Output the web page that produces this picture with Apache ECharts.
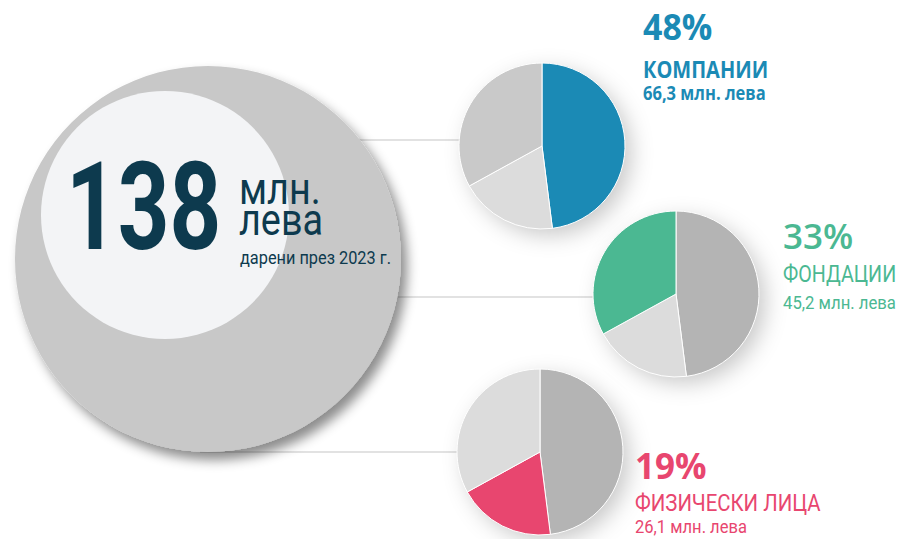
<!DOCTYPE html>
<html>
<head>
<meta charset="utf-8">
<script src="https://cdn.jsdelivr.net/npm/echarts@6/dist/echarts.min.js"></script>
<style>
html,body{margin:0;padding:0;background:#fff;}
#chart{width:900px;height:539px;}
</style>
</head>
<body>
<div id="chart"></div>
<script>
// ---- data ----
const categories = ['КОМПАНИИ', 'ФОНДАЦИИ', 'ФИЗИЧЕСКИ ЛИЦА'];
const shares = [48, 33, 19];
const amounts = [66.3, 45.2, 26.1];
const total = 138;
const totalUnit = ['млн.', 'лева'];
const totalNote = 'дарени през 2023 г.';
const amountUnit = 'млн. лева';
// clockwise slice order in each small pie (from 12 o'clock)
const sliceOrder = [0, 2, 1];

// ---- styles ----
const accent = ['#1b8ab5', '#4bb892', '#e8466f'];
const pieColors = [
  ['#1b8ab5', '#c9c9c9', '#dcdcdc'], // by category index: comp, fond, fiz
  ['#b4b4b4', '#4bb892', '#dcdcdc'],
  ['#b4b4b4', '#dcdcdc', '#e8466f']
];
const pieCenters = [[542, 146], [676, 294], [540, 452]];
const pieR = 83;
const textPos = [
  {x: 643, y: [26, 69, 93], w: [700, 700, 700], f: ['Open Sans', 'Open Sans', 'Open Sans'], s: [35, 23, 19], sx: [0.97, 0.87, 0.87]},
  {x: 783, y: [235, 274, 302], w: [600, 400, 400], f: ['Open Sans', 'Roboto', 'Roboto'], s: [35, 24, 19], sx: [1, 0.82, 0.88]},
  {x: 635, y: [465, 502, 527], w: [700, 400, 400], f: ['Open Sans', 'Roboto', 'Roboto'], s: [35, 24, 18], sx: [1, 0.85, 0.92]}
];

function fmt(v){ return v.toFixed(1).replace('.', ','); }

const series = [];
// big total circle
series.push({
  type: 'pie', silent: true, z: 2,
  center: [208, 259], radius: 193,
  label: {show: false}, labelLine: {show: false},
  itemStyle: {color: '#c8c8c8', shadowColor: 'rgba(0,0,0,0.45)', shadowBlur: 12, shadowOffsetX: 6, shadowOffsetY: 8},
  data: [{name: 'Общо', value: total}]
});
categories.forEach((c, i) => {
  series.push({
    type: 'pie', silent: true, z: 3,
    center: pieCenters[i], radius: pieR,
    startAngle: 90, clockwise: true,
    label: {show: false}, labelLine: {show: false},
    itemStyle: {borderColor: '#fff', borderWidth: 1},
    data: sliceOrder.map(k => ({name: categories[k], value: shares[k], itemStyle: {color: pieColors[i][k]}}))
  });
});

const graphic = [];
// connector lines (behind circles)
const lineY = [140, 297, 452];
lineY.forEach((y, i) => {
  graphic.push({type: 'line', z: 1, shape: {x1: 200, y1: y, x2: pieCenters[i][0], y2: y}, style: {stroke: '#d9d9d9', lineWidth: 1.5}});
});
// pie shadows
pieCenters.forEach(c => {
  graphic.push({type: 'circle', z: 1, shape: {cx: c[0], cy: c[1], r: pieR - 1}, style: {fill: '#fff', shadowColor: 'rgba(0,0,0,0.22)', shadowBlur: 22, shadowOffsetX: 7, shadowOffsetY: 7}});
});
// inner circle
graphic.push({type: 'circle', z: 10, shape: {cx: 165, cy: 215, r: 124}, style: {fill: '#f3f4f6'}});
// total text
graphic.push({type: 'text', z: 20, x: 66, y: 207, scaleX: 0.74, style: {text: String(total), fill: '#0d3a4e', font: '700 122px Roboto', verticalAlign: 'middle', align: 'left'}});
graphic.push({type: 'text', z: 20, x: 239, y: 189, scaleX: 0.86, style: {text: totalUnit[0], fill: '#0d3a4e', font: '400 44px Roboto', verticalAlign: 'middle'}});
graphic.push({type: 'text', z: 20, x: 239, y: 220, scaleX: 0.86, style: {text: totalUnit[1], fill: '#0d3a4e', font: '400 44px Roboto', verticalAlign: 'middle'}});
graphic.push({type: 'text', z: 20, x: 240, y: 258, scaleX: 0.86, style: {text: totalNote, fill: '#0d3a4e', font: '400 19px Roboto', verticalAlign: 'middle'}});
// category labels
categories.forEach((c, i) => {
  const t = textPos[i];
  const lines = [shares[i] + '%', c, fmt(amounts[i]) + ' ' + amountUnit];
  lines.forEach((txt, j) => {
    graphic.push({type: 'text', z: 20, x: t.x, y: t.y[j], scaleX: t.sx[j], style: {text: txt, fill: accent[i], font: t.w[j] + ' ' + t.s[j] + 'px "' + t.f[j] + '"', verticalAlign: 'middle'}});
  });
});

const chart = echarts.init(document.getElementById('chart'), null, {renderer: 'svg'});
chart.setOption({backgroundColor: '#fff', animation: false, series: series, graphic: graphic});
</script>
</body>
</html>
